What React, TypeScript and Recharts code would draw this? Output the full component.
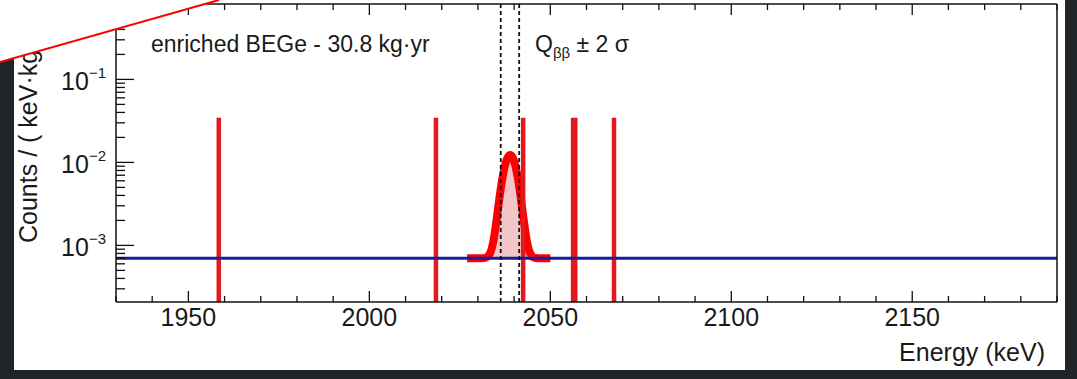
import React from 'react';
import { ComposedChart, Line, Area, XAxis, YAxis, Customized } from 'recharts';

// axis ranges and ticks
const energyRange = [1930, 2190];
const energyTicks = [
  1930, 1940, 1950, 1960, 1970, 1980, 1990, 2000, 2010, 2020, 2030, 2040, 2050, 2060,
  2070, 2080, 2090, 2100, 2110, 2120, 2130, 2140, 2150, 2160, 2170, 2180, 2190,
];
const energyLabels = [1950, 2000, 2050, 2100, 2150];
const countRange = [2.08e-4, 0.81];
const countTicks = [
  3e-4, 4e-4, 5e-4, 6e-4, 7e-4, 8e-4, 9e-4,
  1e-3, 2e-3, 3e-3, 4e-3, 5e-3, 6e-3, 7e-3, 8e-3, 9e-3,
  1e-2, 2e-2, 3e-2, 4e-2, 5e-2, 6e-2, 7e-2, 8e-2, 9e-2,
  1e-1, 2e-1, 3e-1, 4e-1, 5e-1, 6e-1, 7e-1, 8e-1,
];
const decadeExponents = [-3, -2, -1];

// events in the analysis window (keV) and the marker height they are drawn to
const candidateEvents = [1958.4, 2018.4, 2042.5, 2056.3, 2056.9, 2067.6];
const eventMarkerHeight = 0.0345;

// flat background fit
const backgroundLevel = 7.0e-4;

// Q_bb +- 2 sigma window edges
const windowEdges = [2036.3, 2041.4];

// signal expectation on top of the background
const peakEnergy = [
  2027, 2031, 2032, 2033, 2034, 2034.5, 2035, 2035.5, 2036, 2036.5, 2037, 2037.5, 2038, 2038.5,
  2038.9, 2039.5, 2040, 2040.5, 2041, 2041.5, 2042, 2042.5, 2043, 2043.5, 2044, 2045, 2046, 2047, 2050,
];
const peakCounts = [
  7.0e-4, 7.0e-4, 7.07e-4, 7.54e-4, 9.85e-4, 1.28e-3, 1.81e-3, 2.65e-3, 3.87e-3, 5.47e-3, 7.35e-3,
  9.27e-3, 1.094e-2, 1.202e-2, 1.23e-2, 1.167e-2, 1.032e-2, 8.51e-3, 6.57e-3, 4.79e-3, 3.33e-3,
  2.27e-3, 1.57e-3, 1.14e-3, 9.1e-4, 7.37e-4, 7.05e-4, 7.0e-4, 7.0e-4,
];

const FONT = '"Liberation Sans", Arial, Helvetica, sans-serif';
const INK = '#111';

const eventTrace = candidateEvents.flatMap((e) => [
  { x: e, y: countRange[0] },
  { x: e, y: eventMarkerHeight },
  { x: e, y: null },
]);
const windowTrace = windowEdges.flatMap((e) => [
  { x: e, y: countRange[1] },
  { x: e, y: countRange[0] },
  { x: e, y: null },
]);
const backgroundTrace = energyRange.map((e) => ({ x: e, y: backgroundLevel }));
const peakTrace = peakEnergy.map((e, i) => ({ x: e, y: peakCounts[i] }));

function BottomTick(props: any) {
  const { x, y, payload } = props;
  const major = energyLabels.includes(payload.value);
  return (
    <g>
      <line x1={x} x2={x} y1={y} y2={y - (major ? 11 : 6)} stroke={INK} strokeWidth={1.3} />
      {major && (
        <text x={x} y={y + 24} textAnchor="middle" fontFamily={FONT} fontSize={25} fill="#1a1a1a">
          {payload.value}
        </text>
      )}
    </g>
  );
}

function TopTick(props: any) {
  const { x, y, payload } = props;
  const major = energyLabels.includes(payload.value);
  return <line x1={x} x2={x} y1={y} y2={y + (major ? 11 : 6)} stroke={INK} strokeWidth={1.3} />;
}

function CountTick(props: any) {
  const { x, y, payload } = props;
  const exp = Math.round(Math.log10(payload.value));
  const decade = Math.abs(Math.log10(payload.value) - exp) < 1e-6 && decadeExponents.includes(exp);
  return (
    <g>
      <line x1={x} x2={x + (decade ? 18 : 9)} y1={y} y2={y} stroke={INK} strokeWidth={1.3} />
      {decade && (
        <text x={x - 10} y={y + 11} textAnchor="end" fontFamily={FONT} fontSize={25} fill="#1a1a1a">
          <tspan>10</tspan>
          <tspan dy={-12} fontSize={15}>{`\u2212${Math.abs(exp)}`}</tspan>
        </text>
      )}
    </g>
  );
}

function EnergyTitle(props: any) {
  const vb = props.viewBox || { x: 116, y: 302, width: 941 };
  return (
    <text x={vb.x + vb.width - 12} y={vb.y + 59} textAnchor="end" fontFamily={FONT} fontSize={25} fill="#1a1a1a">
      Energy (keV)
    </text>
  );
}

function CountsTitle(props: any) {
  const vb = props.viewBox || { x: 115, y: 4, width: 1, height: 298 };
  const tx = vb.x + vb.width - 79;
  const ty = vb.y + vb.height - 59;
  return (
    <text x={tx} y={ty} transform={`rotate(-90, ${tx}, ${ty})`} fontFamily={FONT} fontSize={25} fill="#1a1a1a">
      Counts / ( keV·kg·yr)
    </text>
  );
}

function Annotations() {
  return (
    <g fontFamily={FONT} fill="#1a1a1a">
      <text x={151} y={52} fontSize={23}>enriched BEGe - 30.8 kg·yr</text>
      <text x={535} y={52} fontSize={23}>
        <tspan>Q</tspan>
        <tspan dy={6} fontSize={15}>ββ</tspan>
        <tspan dy={-6}> ± 2 σ</tspan>
      </text>
    </g>
  );
}

export default function App() {
  return (
    <div style={{ position: 'absolute', left: 0, top: 0, width: 1077, height: 379, background: '#1f2527' }}>
      <div style={{ position: 'absolute', left: 14, top: 0, width: 1051, height: 370, background: '#ffffff' }} />
      <ComposedChart
        width={1077}
        height={379}
        margin={{ top: 3, right: 19, bottom: 76, left: 115 }}
        style={{ position: 'absolute', left: 0, top: 0 }}
      >
        <XAxis
          xAxisId="bottom"
          dataKey="x"
          type="number"
          domain={energyRange}
          ticks={energyTicks}
          interval={0}
          allowDataOverflow
          height={1}
          tickSize={0}
          tickMargin={0}
          tickLine={false}
          axisLine={{ stroke: INK, strokeWidth: 1.5 }}
          tick={<BottomTick />}
          label={(p: any) => <EnergyTitle {...p} />}
        />
        <XAxis
          xAxisId="top"
          orientation="top"
          dataKey="x"
          type="number"
          domain={energyRange}
          ticks={energyTicks}
          interval={0}
          allowDataOverflow
          height={1}
          tickSize={0}
          tickMargin={0}
          tickLine={false}
          axisLine={{ stroke: INK, strokeWidth: 1.5 }}
          tick={<TopTick />}
        />
        <YAxis
          yAxisId="left"
          type="number"
          scale="log"
          domain={countRange}
          ticks={countTicks}
          interval={0}
          allowDataOverflow
          width={1}
          tickSize={0}
          tickMargin={0}
          tickLine={false}
          axisLine={{ stroke: INK, strokeWidth: 1.5 }}
          tick={<CountTick />}
          label={(p: any) => <CountsTitle {...p} />}
        />
        <YAxis
          yAxisId="right"
          orientation="right"
          type="number"
          domain={[0, 1]}
          ticks={[0, 1]}
          width={1}
          tick={false}
          tickLine={false}
          axisLine={{ stroke: INK, strokeWidth: 1.5 }}
        />
        <Line
          xAxisId="bottom"
          yAxisId="left"
          data={eventTrace}
          dataKey="y"
          stroke="#e3191c"
          strokeWidth={4.5}
          dot={false}
          activeDot={false}
          isAnimationActive={false}
        />
        <Line
          xAxisId="bottom"
          yAxisId="left"
          data={backgroundTrace}
          dataKey="y"
          stroke="#1a1a9c"
          strokeWidth={3}
          dot={false}
          activeDot={false}
          isAnimationActive={false}
        />
        <Line
          xAxisId="bottom"
          yAxisId="left"
          data={windowTrace}
          dataKey="y"
          stroke="#111"
          strokeWidth={1.8}
          strokeDasharray="4 3"
          dot={false}
          activeDot={false}
          isAnimationActive={false}
        />
        <Area
          xAxisId="bottom"
          yAxisId="left"
          data={peakTrace}
          dataKey="y"
          type="monotone"
          baseValue={backgroundLevel}
          stroke="#ff0000"
          strokeWidth={8}
          strokeLinejoin="round"
          fill="#f2c6c6"
          fillOpacity={1}
          dot={false}
          activeDot={false}
          isAnimationActive={false}
        />
        <Customized component={Annotations} />
      </ComposedChart>
      <svg width={1077} height={379} style={{ position: 'absolute', left: 0, top: 0, pointerEvents: 'none' }}>
        <polygon points="0,0 219,0 0,62" fill="#ffffff" />
        <line x1={0} y1={62} x2={219} y2={0} stroke="#ff0000" strokeWidth={2} />
      </svg>
    </div>
  );
}
